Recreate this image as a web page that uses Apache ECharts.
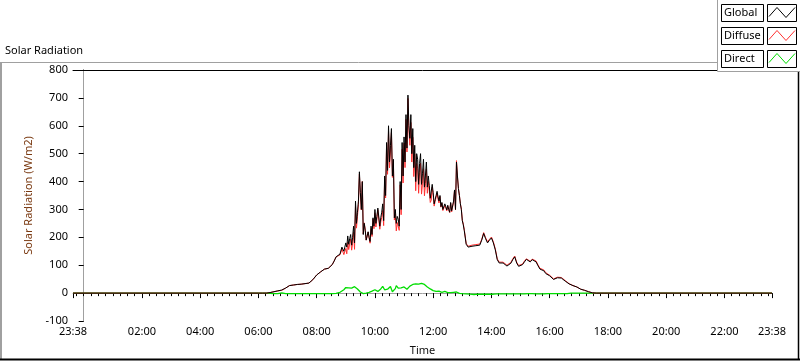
<!DOCTYPE html>
<html>
<head>
<meta charset="utf-8">
<script src="https://cdn.jsdelivr.net/npm/echarts@6/dist/echarts.min.js"></script>
<style>
html,body{margin:0;padding:0;background:#fff;}
#chart{width:800px;height:361px;}
</style>
</head>
<body>
<div id="chart"></div>
<script>
// ---- data ----
const chartTitle = "Solar Radiation";
const yAxisTitle = "Solar Radiation (W/m2)";
const xAxisTitle = "Time";
const xTickLabels = ["23:38","02:00","04:00","06:00","08:00","10:00","12:00","14:00","16:00","18:00","20:00","22:00","23:38"];
const seriesNames = ["Global","Diffuse","Direct"];
// main samples every 4 minutes from 06:00 to 18:00 (outside: night, 0 W/m2)
const sampleStart = "06:00";
const sampleStepMinutes = 4;
const globalValues = [
  0,0,0,0,0, 1,2,3,5,6, 8,9,11,14,18, 22,27,30,29,30, 31,30,32,33,34,
  35,36,40,48,55, 65,72,76,82,86, 88,89,92,102,115, 130,128,140,165,150,
  180,205,195,172,240, 330,290,435,300,210, 225,185,200,240,270,
  300,275,300,270,320, 420,540,600,530,420, 270,250,265,400,540,
  560,640,710,555,500, 450,400,480,465,390, 480,420,380,385,345,
  360,335,365,330,310, 300,320,298,300,325, 300,370,470,375,320,
  260,225,175,165,166, 168,164,170,174,172, 190,214,195,180,190,
  198,180,155,120,108, 108,108,115,97,95, 107,120,130,108,96,
  96,102,112,121,119, 112,120,118,112,98, 86,92,80,70,66,
  62,56,49,51,55, 57,54,48,43,38, 33,29,27,25,22,
  17,14,11,10,9, 5,3,1,0,0, 0,0,0,0,0,0
];
const diffuseValues = [
  0,0,0,0,0, 1,2,3,5,6, 8,9,10,14,18, 22,27,30,29,30, 31,30,32,33,34,
  35,36,40,48,55, 65,72,76,82,86, 88,89,92,102,115, 130,128,137,158,138,
  160,183,177,154,218, 310,275,427,298,212, 227,187,197,231,265,
  288,265,293,255,296, 408,533,580,506,415, 262,223,247,388,516,
  538,623,698,530,470, 418,367,446,432,355, 446,392,358,367,333,
  351,328,359,323,308, 296,314,295,299,323, 295,369,475,375,321,
  262,228,178,168,170, 172,168,174,177,176, 193,217,199,184,193,
  201,184,158,123,111, 111,111,118,100,98, 110,123,133,111,99,
  99,104,115,123,121, 114,122,120,115,101, 89,95,83,73,68,
  64,58,51,53,57, 59,56,50,45,40, 34,29,27,25,22,
  17,14,11,10,9, 5,3,1,0,0, 0,0,0,0,0,0
];
const directValues = [
  0,0,0,0,0, 0,-1,-2,-2,-2, -2,-1,1,-2,-2, -2,-2,-2,-2,-2, -2,-2,-2,-2,-2,
  -1,-2,-2,-2,-2, -2,-2,-2,-2,-2, -2,-2,-2,-2,-1, -1,0,3,6,12,
  20,22,18,18,22, 20,15,8,2,-2, -2,-2,3,9,5,
  12,10,7,15,24, 12,7,20,24,5, 8,27,18,12,24,
  22,17,12,25,30, 32,33,34,33,35, 34,28,22,18,12,
  9,7,6,7,2, 4,6,3,1,2, 5,1,4,0,-1,
  -2,-3,-3,-3,-4, -5,-5,-4,-4,-4, -4,-4,-4,-4,-4,
  -4,-4,-3,-3,-3, -3,-3,-3,-3,-3, -3,-3,-3,-3,-3,
  -3,-3,-3,-2,-2, -2,-2,-2,-3,-3, -3,-3,-3,-3,-2,
  -2,-2,-2,-2,-2, -2,-2,-2,-2,-2, -1,0,0,0,0,
  0,0,0,0,0, 0,0,0,0,0, 0,0,0,0,0,0
];
// extra in-between samples for the noisy midday (09:02 .. 13:02, every 4 minutes)
const midStart = "09:02";
const midStepMinutes = 4;
const globalMid = [
  165,175,210,200,180, 250,330,360,400,250, 190,220,185,210,240,
  250,305,240,290,260, 350,440,470,590,480, 300,275,240,300,420,
  470,520,600,640,590, 530,500,390,500,430, 380,470,420,340,390,
  320,350,345,350,325, 295,310,315,290,295, 330,300,420,350,300, 245
];
const diffuseMid = [
  141,156,194,179,157, 233,318,356,400,252, 190,219,179,203,231,
  237,299,229,271,242, 341,426,449,576,476, 284,253,225,281,395,
  450,506,581,612,559, 499,465,358,466,394, 349,445,400,325,380,
  312,344,337,346,322, 290,306,313,289,291, 327,298,418,351,302, 248
];
const directMid = [
  24,19,16,21,23, 17,12,4,0,-2, 0,1,6,7,9,
  13,6,11,19,18, 9,14,21,14,4, 16,22,15,19,25,
  20,14,19,28,31, 31,35,32,34,36, 31,25,20,15,10,
  8,6,8,4,3, 5,4,2,1,4, 3,2,2,-1,-2, -3
];
const seriesColors = ["#000000","#ff3030","#00dd00"];

// ---- helpers ----
function toMin(s){ const p=s.split(":"); return (+p[0])*60+(+p[1]); }
const xMin = toMin(xTickLabels[0]) - 1440;   // 23:38 of previous day
const xMax = toMin(xTickLabels[xTickLabels.length-1]);
const majorTicks = xTickLabels.map((s,i)=> i===0 ? xMin : toMin(s));
const minorTicks = [];
for (let m = Math.ceil(xMin/15)*15; m <= xMax; m += 15) minorTicks.push(m);
function fmt(m){ const mm=((m%1440)+1440)%1440; const h=Math.floor(mm/60), n=mm%60; return String(h).padStart(2,"0")+":"+String(n).padStart(2,"0"); }
const t0 = toMin(sampleStart), tm = toMin(midStart);
function build(vals, mids){
  const d=[[xMin,0]];
  vals.forEach((v,i)=>d.push([t0+i*sampleStepMinutes, v]));
  mids.forEach((v,i)=>d.push([tm+i*midStepMinutes, v]));
  d.push([xMax,0]);
  d.sort((a,b)=>a[0]-b[0]);
  return d;
}
const FONT = "Noto Sans";

const chart = echarts.init(document.getElementById('chart'), null, {renderer:'canvas'});

// legend graphics
const legendG = [];
legendG.push({type:'rect', z:100, shape:{x:717.5,y:-1,width:90,height:72.5}, style:{fill:'#fff',stroke:'#a0a0a0',lineWidth:1}});
const legendY = [4.5, 27.5, 50.5];
seriesNames.forEach((n,i)=>{
  const y=legendY[i];
  legendG.push({type:'rect', z:101, shape:{x:721.5,y:y,width:42,height:17}, style:{fill:'#fff',stroke:'#000',lineWidth:1}});
  legendG.push({type:'text', z:102, x:724, y:y+8.5, style:{text:n, fill:'#000', font:'11px "'+FONT+'"', verticalAlign:'middle', align:'left'}});
  legendG.push({type:'rect', z:101, shape:{x:767.5,y:y,width:29,height:17}, style:{fill:'#fff',stroke:'#000',lineWidth:1}});
  legendG.push({type:'polyline', z:102, shape:{points:[[769,y+12],[777,y+3],[786,y+13],[795,y+3]]}, style:{stroke:seriesColors[i],fill:null,lineWidth:1}});
});

const option = {
  backgroundColor:'#ffffff',
  animation:false,
  textStyle:{fontFamily:FONT},
  grid:{left:73, right:28, top:70, bottom:39, containLabel:false},
  xAxis:[
    {type:'value', position:'bottom', min:xMin, max:xMax,
     name:xAxisTitle, nameLocation:'middle', nameGap:24,
     nameTextStyle:{color:'#111', fontSize:11, fontFamily:FONT},
     axisLine:{show:true, lineStyle:{color:'#a0a0a0', width:1}},
     axisTick:{show:true, customValues:majorTicks, length:5, lineStyle:{color:'#000'}},
     axisLabel:{show:true, customValues:majorTicks, formatter:v=>fmt(v), color:'#000', fontSize:11, fontFamily:FONT, margin:5},
     splitLine:{show:false}},
    {type:'value', position:'bottom', min:xMin, max:xMax,
     axisLine:{show:false},
     axisTick:{show:true, customValues:minorTicks, length:3, lineStyle:{color:'#000'}},
     axisLabel:{show:false}, splitLine:{show:false}},
    {type:'value', position:'top', min:xMin, max:xMax,
     axisLine:{show:true, lineStyle:{color:'#000', width:1}},
     axisTick:{show:false}, axisLabel:{show:false}, splitLine:{show:false}}
  ],
  yAxis:[
    {type:'value', position:'left', min:-100, max:800, interval:100,
     name:yAxisTitle, nameLocation:'middle', nameGap:36, nameRotate:90,
     nameTextStyle:{color:'#7b3b13', fontSize:11, fontFamily:FONT},
     axisLine:{show:true, lineStyle:{color:'#000', width:1}},
     axisTick:{show:true, length:5, lineStyle:{color:'#000'}},
     axisLabel:{color:'#000', fontSize:11, fontFamily:FONT, margin:5},
     splitLine:{show:false}},
    {type:'value', position:'right', min:-100, max:800, interval:100,
     axisLine:{show:true, lineStyle:{color:'#a0a0a0', width:1}},
     axisTick:{show:false}, axisLabel:{show:false}, splitLine:{show:false}}
  ],
  series:[
    {name:seriesNames[2], type:'line', data:build(directValues, directMid), showSymbol:false, symbol:'none', lineStyle:{color:seriesColors[2], width:1.3}, z:2},
    {name:seriesNames[1], type:'line', data:build(diffuseValues, diffuseMid), showSymbol:false, symbol:'none', lineStyle:{color:seriesColors[1], width:1}, z:3},
    {name:seriesNames[0], type:'line', data:build(globalValues, globalMid), showSymbol:false, symbol:'none', lineStyle:{color:seriesColors[0], width:1}, z:4}
  ],
  graphic:[
    {type:'text', left:5, top:45, style:{text:chartTitle, fill:'#000', font:'11px "'+FONT+'"'}},
    {type:'line', shape:{x1:0,y1:62.5,x2:717,y2:62.5}, style:{stroke:'#a0a0a0',lineWidth:1}},
    {type:'line', shape:{x1:1,y1:62,x2:1,y2:360}, style:{stroke:'#a0a0a0',lineWidth:2}},
    {type:'line', shape:{x1:0,y1:359.5,x2:800,y2:359.5}, style:{stroke:'#000',lineWidth:2}},
    {type:'line', shape:{x1:798.5,y1:71,x2:798.5,y2:360}, style:{stroke:'#000',lineWidth:1.5}}
  ].concat(legendG)
};
chart.setOption(option);
</script>
</body>
</html>
